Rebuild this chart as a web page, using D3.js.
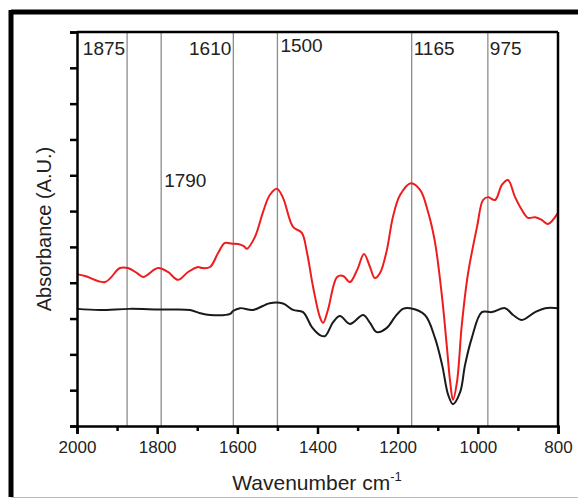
<!DOCTYPE html>
<html>
<head>
<meta charset="utf-8">
<script src="https://cdn.jsdelivr.net/npm/d3@7"></script>
<style>
  body { margin: 0; background: #fff; }
  text { font-family: "Liberation Sans", Arial, sans-serif; fill: #222; }
</style>
</head>
<body>
<div class="chart"></div>
<script>
var margin = { top: 32, right: 20, bottom: 74, left: 77 };
var width = 558 - margin.left;
var height = 426 - margin.top;

// wavenumber (cm-1) of each reading
var redWn = [2000, 1980, 1930, 1893, 1873, 1850, 1835, 1798, 1773, 1748, 1723, 1698, 1688, 1668,
  1648, 1631, 1613, 1598, 1584, 1576, 1556, 1536, 1519, 1501, 1486, 1461, 1439, 1426, 1411, 1394,
  1386, 1374, 1351, 1336, 1319, 1301, 1284, 1269, 1257, 1244, 1227, 1212, 1194, 1167, 1144, 1124,
  1107, 1089, 1077, 1069, 1062, 1052, 1040, 1025, 1002, 987, 975, 957, 940, 925, 907, 890, 875,
  857, 840, 825, 800];
var redAbs = [4.24, 4.19, 4.02, 4.41, 4.41, 4.27, 4.16, 4.41, 4.30, 4.08, 4.30, 4.44, 4.41, 4.44,
  4.83, 5.11, 5.09, 5.08, 5.02, 4.95, 5.28, 5.97, 6.45, 6.62, 6.37, 5.56, 5.39, 4.83, 3.88, 3.04,
  2.88, 3.24, 4.16, 4.19, 4.02, 4.36, 4.80, 4.44, 4.13, 4.27, 4.91, 5.83, 6.45, 6.78, 6.59, 5.97,
  5.14, 3.57, 2.18, 1.23, 0.73, 1.23, 2.82, 4.22, 5.56, 6.31, 6.39, 6.31, 6.73, 6.87, 6.39, 6.03,
  5.81, 5.83, 5.75, 5.64, 5.95];

var blackWn = [2000, 1943, 1868, 1793, 1718, 1693, 1668, 1618, 1611, 1593, 1561, 1519, 1486, 1461,
  1436, 1414, 1394, 1381, 1361, 1344, 1319, 1286, 1269, 1252, 1227, 1207, 1187, 1169, 1132, 1107,
  1089, 1074, 1062, 1044, 1032, 1015, 990, 965, 932, 912, 890, 857, 832, 800];
var blackAbs = [3.27, 3.24, 3.27, 3.25, 3.24, 3.15, 3.10, 3.13, 3.21, 3.29, 3.24, 3.43, 3.42, 3.24,
  3.18, 2.76, 2.54, 2.51, 2.90, 3.07, 2.85, 3.10, 2.88, 2.62, 2.74, 3.04, 3.27, 3.29, 3.10, 2.46,
  1.70, 0.87, 0.61, 0.95, 1.70, 2.46, 3.18, 3.18, 3.29, 3.10, 2.96, 3.18, 3.29, 3.29];

var markWn = [1875, 1790, 1610, 1500, 1165, 975];
var markLabels = ["1875", "1790", "1610", "1500", "1165", "975"];
var xTicks = [2000, 1800, 1600, 1400, 1200, 1000, 800];
var xMinor = [1900, 1700, 1500, 1300, 1100, 900];

var svg = d3.select(".chart").append("svg")
  .attr("width", 578)
  .attr("height", 500);

// outer frame
svg.append("line").attr("x1", 11).attr("y1", 12).attr("x2", 578).attr("y2", 12)
  .attr("stroke", "#000").attr("stroke-width", 5);
svg.append("line").attr("x1", 11).attr("y1", 10).attr("x2", 11).attr("y2", 497)
  .attr("stroke", "#000").attr("stroke-width", 5);
svg.append("line").attr("x1", 11).attr("y1", 497.5).attr("x2", 578).attr("y2", 497.5)
  .attr("stroke", "#bbb").attr("stroke-width", 1);

var g = svg.append("g").attr("transform", `translate(${margin.left}, ${margin.top})`);

var xScale = d3.scaleLinear().domain([2000, 800]).range([0, width]);
var yScale = d3.scaleLinear().domain([0, 11]).range([height, 0]);

// marker lines
g.selectAll(".mark").data(markWn).enter().append("line")
  .attr("x1", d => xScale(d)).attr("x2", d => xScale(d))
  .attr("y1", 0).attr("y2", height)
  .attr("stroke", "#8c8c8c").attr("stroke-width", 1.3);

var line = d3.line()
  .x(d => xScale(d[0]))
  .y(d => yScale(d[1]))
  .curve(d3.curveCatmullRom);

g.append("path").datum(d3.zip(blackWn, blackAbs))
  .attr("d", line).attr("fill", "none")
  .attr("stroke", "#1a1a1a").attr("stroke-width", 2);

g.append("path").datum(d3.zip(redWn, redAbs))
  .attr("d", line).attr("fill", "none")
  .attr("stroke", "#ee1c1c").attr("stroke-width", 2);

// axes
var yAxis = d3.axisLeft(yScale).ticks(11).tickSize(7).tickFormat("");
g.append("g").call(yAxis);

var xAxis = d3.axisBottom(xScale).tickValues(xTicks).tickSize(8).tickPadding(7)
  .tickFormat(d3.format("d"));
var xg = g.append("g").attr("transform", `translate(0, ${height})`).call(xAxis);
xg.selectAll("text").style("font-size", "17px").attr("fill", "#222");

g.append("g").attr("transform", `translate(0, ${height})`)
  .call(d3.axisBottom(xScale).tickValues(xMinor).tickSize(5).tickFormat(""))
  .select(".domain").remove();

g.selectAll(".domain, .tick line").attr("stroke", "#000").attr("stroke-width", 2.5);

// top and right border
g.append("line").attr("x1", 0).attr("x2", width).attr("y1", 0).attr("y2", 0)
  .attr("stroke", "#000").attr("stroke-width", 2.5);
g.append("line").attr("x1", width).attr("x2", width).attr("y1", 0).attr("y2", height)
  .attr("stroke", "#000").attr("stroke-width", 2.5);

// mark labels
var labelPos = [
  { dx: -2, y: 23, anchor: "end" },
  { dx: 3, y: 155, anchor: "start" },
  { dx: -2, y: 23, anchor: "end" },
  { dx: 3, y: 20, anchor: "start" },
  { dx: 2, y: 23, anchor: "start" },
  { dx: 2, y: 23, anchor: "start" }
];
g.selectAll(".mlabel").data(markWn).enter().append("text")
  .attr("x", (d, i) => xScale(d) + labelPos[i].dx)
  .attr("y", (d, i) => labelPos[i].y)
  .attr("text-anchor", (d, i) => labelPos[i].anchor)
  .style("font-size", "19px")
  .text((d, i) => markLabels[i]);

// axis titles
var xt = svg.append("text")
  .attr("x", 317).attr("y", 490)
  .attr("text-anchor", "middle")
  .style("font-size", "21px")
  .text("Wavenumber cm");
xt.append("tspan").attr("dy", -9).style("font-size", "13px").text("-1");

svg.append("text")
  .attr("transform", "translate(51, 229) rotate(-90)")
  .attr("text-anchor", "middle")
  .style("font-size", "20px")
  .text("Absorbance (A.U.)");
</script>
</body>
</html>
